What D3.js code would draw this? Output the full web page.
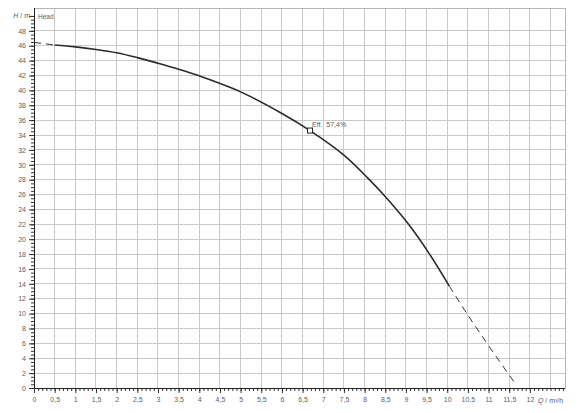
<!DOCTYPE html>
<html>
<head>
<meta charset="utf-8">
<script src="https://cdn.jsdelivr.net/npm/d3@7"></script>
<style>
  body { margin: 0; background: #fff; }
  svg text { font-family: "Liberation Sans", Arial, sans-serif; }
</style>
</head>
<body>
<svg id="chart" width="580" height="413"></svg>
<script>
// pump curve (Q in m3/h, H in m)
var headQ = [0.5, 1, 1.5, 2, 2.5, 3, 3.5, 4, 5, 6, 6.68, 7.5, 8.08, 8.52, 9.05, 9.56, 10.05]
var headH = [46.1, 45.85, 45.5, 45.05, 44.4, 43.65, 42.85, 41.95, 39.8, 36.9, 34.6, 31.3, 28.2, 25.6, 22.1, 18.1, 13.7]
// extrapolated (dashed) parts
var startQ = [0, 0.5]
var startH = [46.45, 46.1]
var endQ = [10.05, 10.5, 11, 11.67]
var endH = [13.7, 9.8, 5.7, 0.4]
// duty point
var effQ = [6.68]
var effH = [34.6]
var effLabel = ['Eff.\u00a0\u00a057,4%']

var xTicks = d3.range(0, 12.01, 0.5)
var yTicks = d3.range(0, 48.01, 2)
var xLabels = xTicks.map(function (d) { return String(d).replace('.', ',') })

var margin = { left: 34, top: 8, right: 15, bottom: 25 }
var width = 580 - margin.left - margin.right
var height = 413 - margin.top - margin.bottom

var svg = d3.select('#chart')
var g = svg.append('g').attr('transform', 'translate(' + margin.left + ',' + margin.top + ')')

var x = d3.scaleLinear().domain([0, 12.85]).range([0, width])
var y = d3.scaleLinear().domain([0, 51.07]).range([height, 0])

var gridColor = '#cacaca'
var textColor = '#606060'

// grid
g.append('g').selectAll('line')
  .data(xTicks.filter(function (d) { return d > 0 }).concat([12.5]))
  .enter().append('line')
  .attr('x1', function (d) { return x(d) }).attr('x2', function (d) { return x(d) })
  .attr('y1', 0).attr('y2', height)
  .attr('stroke', gridColor).attr('stroke-width', 1)
  .attr('shape-rendering', 'crispEdges')

g.append('g').selectAll('line')
  .data(yTicks.filter(function (d) { return d > 0 }))
  .enter().append('line')
  .attr('x1', 0).attr('x2', width)
  .attr('y1', function (d) { return y(d) }).attr('y2', function (d) { return y(d) })
  .attr('stroke', gridColor).attr('stroke-width', 1)
  .attr('shape-rendering', 'crispEdges')

// frame
g.append('rect')
  .attr('width', width).attr('height', height)
  .attr('fill', 'none').attr('stroke', '#b5b5b5')
  .attr('shape-rendering', 'crispEdges')

// minor ticks
g.append('g')
  .attr('transform', 'translate(0,' + height + ')')
  .call(d3.axisBottom(x).tickValues(d3.range(0, 12.81, 0.1)).tickSize(3).tickFormat(''))
  .call(function (s) { s.select('.domain').remove() })
g.append('g')
  .call(d3.axisLeft(y).tickValues(d3.range(0, 50.01, 0.5)).tickSize(3).tickFormat(''))
  .call(function (s) { s.select('.domain').remove() })

// major axes
var xAxis = g.append('g')
  .attr('transform', 'translate(0,' + height + ')')
  .call(d3.axisBottom(x).tickValues(xTicks).tickSize(5).tickPadding(4)
    .tickFormat(function (d, i) { return xLabels[i] }))
var yAxis = g.append('g')
  .call(d3.axisLeft(y).tickValues(yTicks.concat([50])).tickSize(5).tickPadding(3)
    .tickFormat(function (d) { return d === 50 ? '' : d }))

;[xAxis, yAxis].forEach(function (a) {
  a.selectAll('path.domain').remove()
  a.selectAll('text').attr('fill', textColor).style('font-size', '7px')
})
g.selectAll('.tick line').attr('stroke', '#333')
g.append('line').attr('x1', 0).attr('x2', width).attr('y1', height).attr('y2', height)
  .attr('stroke', '#222').attr('shape-rendering', 'crispEdges')
g.append('line').attr('x1', 0).attr('x2', 0).attr('y1', 0).attr('y2', height)
  .attr('stroke', '#222').attr('shape-rendering', 'crispEdges')

// axis titles
var hTitle = svg.append('text')
  .attr('x', margin.left - 4).attr('y', margin.top + y(50) + 2.5)
  .attr('text-anchor', 'end').attr('fill', textColor).style('font-size', '7px')
hTitle.append('tspan').attr('font-style', 'italic').text('H')
hTitle.append('tspan').text(' / m')

var qTitle = svg.append('text')
  .attr('x', margin.left + x(12.5)).attr('y', margin.top + height + 14.5)
  .attr('text-anchor', 'middle').attr('fill', textColor).style('font-size', '7px')
qTitle.append('tspan').attr('font-style', 'italic').text('Q')
qTitle.append('tspan').text(' / m³/h')

g.append('text')
  .attr('x', 4).attr('y', y(50) + 3)
  .attr('fill', textColor).style('font-size', '6.5px')
  .text('Head')

// curve
var line = d3.line()
  .x(function (d) { return x(d[0]) })
  .y(function (d) { return y(d[1]) })
  .curve(d3.curveCatmullRom)

function zip (a, b) { return a.map(function (v, i) { return [v, b[i]] }) }

g.append('path')
  .datum(zip(headQ, headH))
  .attr('d', line)
  .attr('fill', 'none').attr('stroke', '#2b2b2b').attr('stroke-width', 1.6)

;[zip(startQ, startH), zip(endQ, endH)].forEach(function (pts) {
  g.append('path')
    .datum(pts)
    .attr('d', line)
    .attr('fill', 'none').attr('stroke', '#333').attr('stroke-width', 1)
    .attr('stroke-dasharray', '7,5')
})

// efficiency marker
var eff = zip(effQ, effH)
g.selectAll('rect.eff').data(eff).enter().append('rect')
  .attr('x', function (d) { return x(d[0]) - 2.5 })
  .attr('y', function (d) { return y(d[1]) - 2.5 })
  .attr('width', 5).attr('height', 5)
  .attr('fill', '#fff').attr('stroke', '#222').attr('stroke-width', 1)
g.selectAll('text.eff').data(eff).enter().append('text')
  .attr('x', function (d) { return x(d[0]) + 2 })
  .attr('y', function (d) { return y(d[1]) - 4 })
  .attr('fill', textColor).style('font-size', '7px')
  .text(function (d, i) { return effLabel[i] })
</script>
</body>
</html>
